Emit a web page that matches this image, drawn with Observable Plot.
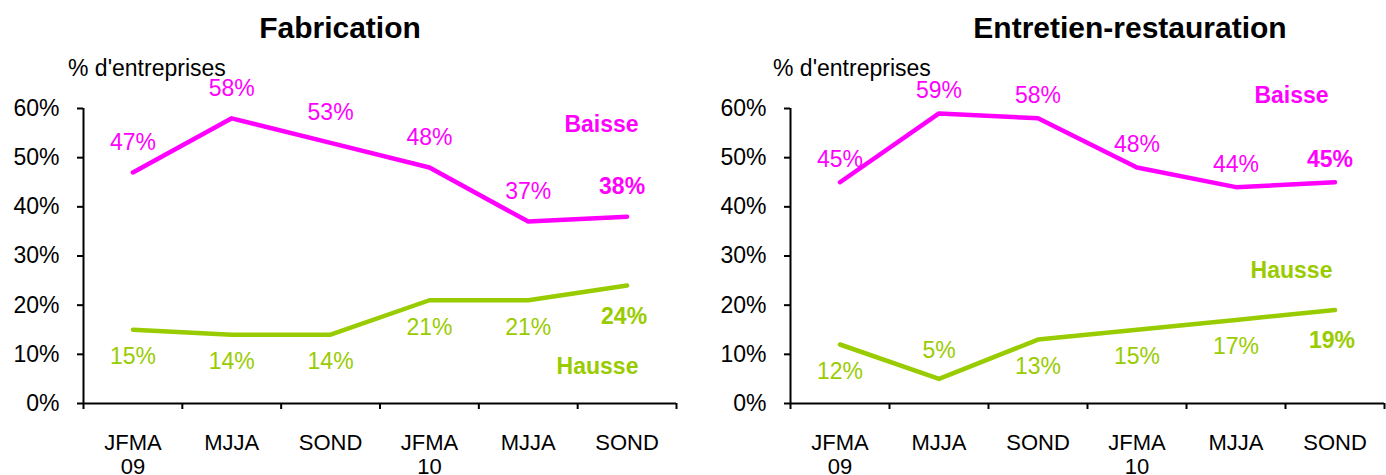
<!DOCTYPE html>
<html>
<head>
<meta charset="utf-8">
<script src="https://cdn.jsdelivr.net/npm/d3@7"></script>
<script src="https://cdn.jsdelivr.net/npm/@observablehq/plot@0.6"></script>
<style>
  html, body { margin: 0; padding: 0; background: #fff; }
  #root { position: relative; width: 1386px; height: 475px; overflow: hidden; font-family: "Liberation Sans", Arial, sans-serif; }
  .panel { position: absolute; top: 0; }
  .title { position: absolute; font-weight: bold; font-size: 30px; line-height: 1; white-space: nowrap; transform: translateX(-50%); color: #000; }
  .unit { position: absolute; font-size: 23px; line-height: 1; white-space: nowrap; color: #000; }
</style>
</head>
<body>
<div id="root"></div>
<script>
// ---- data ----
const periods = ["JFMA\n09", "MJJA", "SOND", "JFMA\n10", "MJJA", "SOND"];
const fabricationBaisse = [47, 58, 53, 48, 37, 38];
const fabricationHausse = [15, 14, 14, 21, 21, 24];
const entretienBaisse = [45, 59, 58, 48, 44, 45];
const entretienHausse = [12, 5, 13, 15, 17, 19];
const yTicks = [0, 10, 20, 30, 40, 50, 60];
const titles = ["Fabrication", "Entretien-restauration"];
const unitLabel = "% d'entreprises";
const seriesNames = ["Baisse", "Hausse"];

const MAGENTA = "#FF00FF";
const GREEN = "#99CC00";
const FONT = "'Liberation Sans', Arial, sans-serif";

function panel(opts) {
  const n = periods.length;
  const rows = (vals) => vals.map((v, i) => ({i, v, x: i + 0.5, last: i === n - 1}));
  const b = rows(opts.baisse), h = rows(opts.hausse);
  return Plot.plot({
    width: 693,
    height: 475,
    marginTop: 108,
    marginBottom: 72,
    marginLeft: opts.marginLeft,
    marginRight: opts.marginRight,
    style: {fontFamily: FONT, fontSize: "23px", overflow: "visible", background: "transparent"},
    x: {domain: [0, n], axis: null},
    y: {domain: [0, 60], axis: null},
    marks: [
      Plot.axisY({ticks: yTicks, tickFormat: d => d + "%", tickSize: 6, tickPadding: 18, strokeWidth: 2, fontSize: 23, fill: "#000", label: null}),
      Plot.axisX({ticks: d3.range(0, n + 1), tickFormat: () => "", tickSize: 6, strokeWidth: 2, label: null}),
      Plot.axisX({ticks: d3.range(n).map(i => i + 0.5), tickFormat: t => periods[Math.floor(t)], tickSize: 0, tickPadding: 30, fontSize: 22, lineHeight: 1.08, fill: "#000", label: null}),
      Plot.ruleX([0], {y1: 0, y2: 60, stroke: "#000", strokeWidth: 2}),
      Plot.ruleY([0], {stroke: "#000", strokeWidth: 2}),
      Plot.line(b, {x: "x", y: "v", stroke: MAGENTA, strokeWidth: 4.5}),
      Plot.line(h, {x: "x", y: "v", stroke: GREEN, strokeWidth: 4.5}),
      // value labels
      Plot.text(b.filter(d => !d.last), {x: "x", y: "v", text: d => d.v + "%", dy: opts.baisseLabelDy, fill: MAGENTA, fontSize: 23}),
      Plot.text(b.filter(d => d.last), {x: "x", y: "v", text: d => d.v + "%", dy: opts.baisseLabelDy, dx: -5, fill: MAGENTA, fontSize: 23, fontWeight: "bold"}),
      Plot.text(h.filter(d => !d.last && d.v >= 8), {x: "x", y: "v", text: d => d.v + "%", dy: 27, fill: GREEN, fontSize: 23}),
      Plot.text(h.filter(d => !d.last && d.v < 8), {x: "x", y: "v", text: d => d.v + "%", dy: -28, fill: GREEN, fontSize: 23}),
      Plot.text(h.filter(d => d.last), {x: "x", y: "v", text: d => d.v + "%", dy: 31, dx: -3, fill: GREEN, fontSize: 23, fontWeight: "bold"}),
      // series names
      Plot.text([seriesNames[0]], {frameAnchor: "top-right", lineAnchor: "middle", dx: opts.baisseDx, dy: opts.baisseDy, textAnchor: "middle", fill: MAGENTA, fontSize: 23, fontWeight: "bold"}),
      Plot.text([seriesNames[1]], {frameAnchor: "bottom-right", lineAnchor: "middle", dx: opts.hausseDx, dy: opts.hausseDy, textAnchor: "middle", fill: GREEN, fontSize: 23, fontWeight: "bold"})
    ]
  });
}

const root = document.getElementById("root");

const panels = [
  {left: 0, title: titles[0], titleX: 340, unitX: 68, baisse: fabricationBaisse, hausse: fabricationHausse,
   marginLeft: 83, marginRight: 17, baisseLabelDy: -30, baisseDx: -75, baisseDy: 16, hausseDx: -79, hausseDy: -37},
  {left: 693, title: titles[1], titleX: 1130, unitX: 773, baisse: entretienBaisse, hausse: entretienHausse,
   marginLeft: 97, marginRight: 2, baisseLabelDy: -23, baisseDx: -93, baisseDy: -13, hausseDx: -93, hausseDy: -133}
];

for (const p of panels) {
  const wrap = document.createElement("div");
  wrap.className = "panel";
  wrap.style.left = p.left + "px";
  wrap.appendChild(panel(p));
  root.appendChild(wrap);

  const t = document.createElement("div");
  t.className = "title";
  t.textContent = p.title;
  t.style.left = p.titleX + "px";
  t.style.top = "13px";
  root.appendChild(t);

  const u = document.createElement("div");
  u.className = "unit";
  u.textContent = unitLabel;
  u.style.left = p.unitX + "px";
  u.style.top = "57px";
  root.appendChild(u);
}
</script>
</body>
</html>
